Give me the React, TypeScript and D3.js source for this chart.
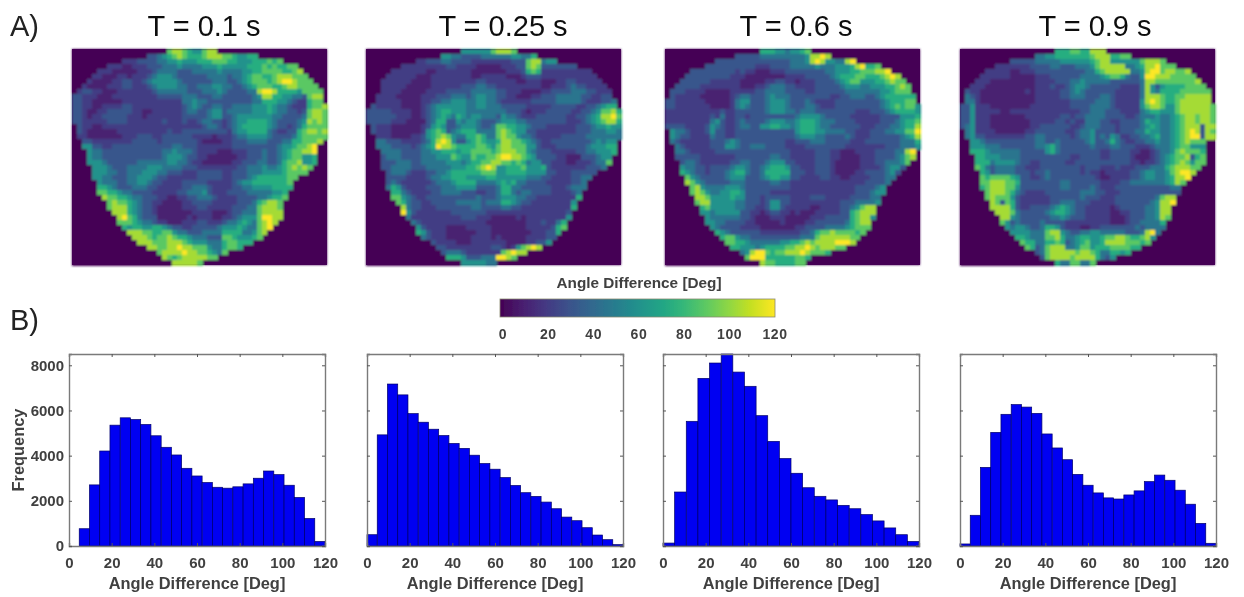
import React, { useEffect, useRef } from "react";
import * as d3 from "d3";

const width = 1244;
const height = 597;

const titles = ["T = 0.1 s", "T = 0.25 s", "T = 0.6 s", "T = 0.9 s"];
const titleCenters = [204, 503, 796, 1095];
const mapLefts = [72, 366, 665, 960];
const histLefts = [69, 367, 663, 960];

const xTicks = [0, 20, 40, 60, 80, 100, 120];
const yTicks = [0, 2000, 4000, 6000, 8000];
const barTicks = [0, 20, 40, 60, 80, 100, 120];

// frequency per bin, bins span 0-120 deg
const hist01 = [0, 765, 2705, 4205, 5350, 5675, 5600, 5380, 4880, 4370, 4030, 3440, 3100, 2810, 2600, 2560, 2620, 2750, 3000, 3320, 3160, 2690, 2150, 1220, 200];
const hist025 = [500, 4920, 7170, 6690, 5860, 5480, 5170, 4890, 4540, 4320, 4020, 3650, 3400, 3030, 2680, 2360, 2195, 1945, 1650, 1280, 1120, 810, 485, 280, 60];
const hist06 = [130, 2390, 5520, 7420, 8100, 8500, 7700, 7070, 5770, 4630, 3870, 3220, 2580, 2200, 2040, 1800, 1650, 1390, 1110, 800, 500, 200];
const hist09 = [90, 1360, 3480, 5030, 5830, 6260, 6150, 5870, 4960, 4340, 3820, 3170, 2690, 2350, 2130, 2080, 2260, 2440, 2850, 3140, 2910, 2470, 1850, 1000, 120];

// angle maps: one digit per cell, "." = outside the region
const digitLevels = [0, 3, 6, 8, 9];
const digitDegrees = [0, 32, 75, 104, 120];

const map01 = [
  ".......... .........7 887655788.",
  ".......... .....33456 7876667888 7765566",
  ".......... 2223333445 5655566677 7665556667 67",
  ".......222 1122233344 4544445556 5555566676 76677",
  ".....22211 1112223444 4333444445 4444556677 776678",
  "....221112 2122234555 4333333444 4344567766 7888777",
  "...2111122 3322345555 5433333344 4334567776 78998777",
  "..21111222 3322234555 5443344455 4433456777 667887777",
  ".233221112 2222223444 4443334445 4333344899 8666657777",
  "3322211122 2222222333 3344433344 3333334588 6655443788",
  "3322111111 2222222222 2244544333 3333334466 6554322677",
  "3322112222 3322222222 2234543344 3344445556 5443222677 8",
  "3321122333 3322112222 2234433455 3444445556 5443323788 7",
  "3321223333 3222122222 2233333455 3345555555 4433334788 7",
  "3322222333 3222222232 2232234433 2345566665 4333345878 7",
  ".322112222 2222222222 2222223443 2345666665 4332346777 7",
  ".321111112 2222222223 2233333333 3245566664 3223367887 8",
  ".221111111 2223332233 3333222212 2234455554 3333467777 7",
  "..33222222 2233333233 3333321111 2233344443 3344667778",
  "..55332233 3333333333 4433322222 2233333333 345567789.",
  "...5443333 3333333344 5444322221 1122233343 345677889.",
  "...5443333 3333333345 5543322111 1112233343 345677556.",
  "...5554333 3334444445 5443221111 1122333443 346778556.",
  "....555433 3444455544 4433322222 2223344454 45678787",
  "....555443 3444555443 3322233333 2233344455 5567777",
  "....554433 3445554332 2222233333 2233345666 66677",
  ".....54443 3445543322 2233333222 2234556666 6667",
  ".....66543 3344433222 2233444322 2233445555 6666",
  ".....77665 4433332222 2334445322 2333344444 556",
  "......8776 6544333221 1223344432 2223333445 667",
  ".......787 7654332211 1122333322 2223334678 87",
  ".......788 8654332111 1122233222 2233344788 87",
  "........88 8654332111 1111222211 1233444788 88",
  ".........8 9764333111 1112122211 2234555799 88",
  ".........7 7765443221 1122233222 3445654789 8",
  ".......... 6566556654 3322333334 5556544789",
  ".......... .888776677 5443334444 666644578.",
  ".......... ..88876778 7665444333 77655567",
  ".......... ...8887778 8876555444 677666",
  ".......... .....88778 8988777544 6776",
  ".......... .......788 8898877654 7",
  ".......... ........87 678888877",
  ".......... .......... 888887",
];

const map025 = [
  ".......... .........5 5555578887",
  ".......... .....55443 3334444445 5446",
  ".......... 2233344333 3222222223 33788455",
  ".......222 2222223322 2211111222 3378733333 33",
  ".....22222 2211222222 2111111122 2367622222 22222",
  "....222222 1112222222 2112222211 1233322222 222222",
  "...2222221 1112222222 2233222222 1122211122 3322222",
  "...2222211 1112222223 3344332222 2222211222 34332222",
  "...2222111 1122223333 3444443322 2111122333 344433222",
  "..22221111 1222333444 3455443322 1112233344 444332233",
  "..22222111 1223344555 4455443222 2223333344 4443222334",
  ".322222111 1234555555 4455444333 3322222333 3322334566",
  "3333322221 1234566555 4444444433 3212223333 3223345778 6",
  "3333332221 1234565465 4554443544 3222333333 2233456889 7",
  "3333322211 1134663354 5543334555 4433333333 2223456788 6",
  ".322211111 1235653345 5543347766 5543332222 2233345565 5",
  ".322211111 1256763456 6644447876 5533222222 2233344455 4",
  "..22211112 2356787544 6676447877 5443222223 3333444444 4",
  "..44333222 2346898533 5676556887 7654322333 3333345455",
  "..44433332 3456988766 6677657887 7755322233 3333455566",
  "...4444333 3445566656 6777767888 7754333222 2233445556",
  "...3444333 3444555765 5766778998 8765333322 111333455",
  "...3334443 3444445554 5667788776 7645533222 112223447",
  "...3344443 3344444555 6678985566 6755563222 22223334",
  "....344432 2233445666 6667775566 6655553322 233333",
  "....333322 2234455666 5555665555 5544433222 23344",
  "....343222 2223444566 6644445656 4433332222 2334",
  "....465322 2233344455 5533334664 4333333222 3444",
  ".....66432 2223344443 3322334664 3443333222 234",
  ".....77543 2233333333 3343334555 4433222222 226",
  "......7643 3223333344 4443444665 4332222222 25",
  ".......843 3222333333 3443333443 3222222222 26",
  ".......953 2222222333 3333222222 2222222222 3",
  "........42 2222222223 3322211111 2122222222 5",
  ".........4 3222222222 2222111111 1122232246",
  ".......... 5322221111 2222211111 1122222367",
  ".......... 6532221111 1122211111 111222336.",
  ".......... .432221111 1222212111 11222233",
  ".......... ...3222211 1222222211 1122335",
  ".......... ....332222 2222233212 57898",
  ".......... .....34443 2222222789 88",
  ".......... ......6665 3334449987",
  ".......... .........5 555544",
];

const map06 = [
  ".......... .........6 665545567",
  ".......... ....333334 4444444458 898",
  ".......... 3333333333 3333344458 98554489",
  "........33 3333333322 2333344444 5444555689 667",
  ".....33333 3333232211 1222333333 3344555667 77889",
  "....333333 3332221111 1111222233 3334566677 6667898",
  "...3333332 2222211111 2233221222 3333456775 55667877",
  "..33333222 2222211122 3444332222 3333345554 455566787",
  ".333222211 1112222233 4444333322 3333334444 444556777",
  ".322222111 1112344333 4544433333 3332233444 3345666666",
  "3322222211 1112455333 4555433343 2222333333 3334566677",
  "3322222221 1112454333 4555433344 3222333333 3334567677 5",
  "2222222222 2322333333 4555443444 3333333322 2333456666 5",
  "2222222223 2422332333 3333334555 5433333222 2223333555 6",
  "2222222224 5322343333 4555445666 5444333322 2223334566 7",
  "3333222235 4322344335 5665545666 5443333332 2233344566 8",
  ".544322235 3322333333 3333335666 5544443322 2333445577 9",
  ".543322224 3322333333 3333334555 4433334322 2333333456 8",
  ".432222223 3345433333 3333223334 4433333222 3333333444 6",
  "..43222223 3355433444 3333222233 3333332222 2222333444 5",
  "..44322222 3333333333 3333322222 3332211122 2233334489",
  "..33333222 2222333333 3443322222 3332211112 2233334578",
  "...3443222 2223344333 4555332222 3332111112 223344457.",
  "...5443323 3334554334 5666533222 3332111112 22234553",
  "...6543323 3345664334 6666633322 3332111122 3333453",
  "....754333 3345553334 5665533222 2332211222 233344",
  "....875433 3334443333 3443322222 2222222222 33334",
  ".....78544 4455543333 3333322222 2222222233 3345",
  ".....78754 4556653333 3222222222 2222222233 3455",
  "......8875 5556553332 3333322223 3322222333 344",
  "......7885 5555443332 3553322222 2222233344 445",
  ".......675 5555443322 3553222221 1222233457 88",
  ".......554 5555533221 2332212111 2222233678 88",
  "........54 4444433211 1222111112 2233333678 85",
  "........55 4433332211 1112111122 3333334678 8",
  ".........5 4333322221 1111112233 3344445677 7",
  ".......... 6543333332 2222222334 6778777767",
  ".......... .677544333 3333333444 788888877.",
  ".......... ..77665444 4445566787 88889998",
  ".......... ...6655545 6666778898 788877",
  ".......... .....45899 7677888987 776",
  ".......... ......7999 666666776",
  ".......... .........8 77666677",
];

const map09 = [
  ".......... .........6 667766888",
  ".......... .....44556 6666667888 6677",
  ".......... 3333344444 5555556788 5555557888 7",
  ".......222 2222333344 3334445788 8884456889 777",
  ".....22222 1122233333 3333344678 8888445899 788778",
  "....222222 1111122233 3333444456 7764335998 8877777",
  "...2221111 1111122223 3344544444 3333334887 77777778",
  "..22211111 1111122232 2345543333 3322224853 566667777",
  ".322111111 1112122222 3345433333 3222224854 6666777777",
  ".432111111 1111122222 3344433344 3222224888 7667788888",
  ".442111111 1111122222 2233333444 3222225898 7667888888",
  "3352221111 1111222222 2233334444 3222225788 7557888888 7",
  "3352222211 2222222222 2222334443 3322224566 5557888888 7",
  "3352221111 1112222222 3323344443 3332234445 4456788788 7",
  "3352221111 1111222223 3232244433 2233334655 4456788788 7",
  "3452221111 1111223333 3322344433 3233334565 4456788838 8",
  ".452222111 1112233333 3223445333 3233344655 4456789838 7",
  ".453322222 2223344333 3323445343 5422334456 4456789938 8",
  "..55433333 3333344334 3333345334 6432233445 445678777",
  "..55544433 3333344564 3333334333 4433322234 445677555",
  "..66654444 4433333564 3333333322 3333221123 445787776",
  "...6655544 4433333333 3322333322 3333211123 456778367",
  "...6664555 5433223333 3223333333 3333221223 456787577",
  "...7643444 4332223333 3333233322 2322233344 46788877",
  "....653444 4333233433 3333232212 2222334554 4578998",
  "....767777 6533223433 3333333211 2222334554 456889",
  "....778887 7633333333 4433333322 2233444444 45687",
  "....678887 7533333333 4433334322 2333333333 3344",
  ".....78887 6432222333 3333444332 2233333333 3333",
  ".....78777 5322222233 3333433322 2333333334 788",
  "......8737 6322222233 4443332222 2333333345 889",
  "......8888 6322333345 6543322222 1233333445 88",
  ".......888 7433333456 6543322222 1122333445 88",
  "........88 5433333344 5433322222 1112333445 87",
  "........75 3433334333 3222222222 1112334444 6",
  ".........5 4554334665 3222112233 3333343444 4",
  ".......... 5555444788 5433445544 4443334894",
  ".......... .665444778 6445665567 788766785",
  ".......... ..76644667 6345675568 88877767",
  ".......... ...7634788 8445775666 777766",
  ".......... .....34788 8887887644 6656",
  ".......... ......3788 8878888643 5",
  ".......... .........6 4477447",
];

const maps = [map01, map025, map06, map09];
const hists = [hist01, hist025, hist06, hist09];

const FONT = "'Liberation Sans', Arial, sans-serif";
const GREY = "#404040";

const digitToDegrees = d3.scaleLinear().domain(digitLevels).range(digitDegrees);

function cellValue(ch: string) {
  return ch === "." || ch === undefined ? 0 : digitToDegrees(+ch);
}

export default function App() {
  const ref = useRef<SVGSVGElement>(null);

  useEffect(() => {
    const svg = d3.select(ref.current);
    svg.selectAll("*").remove();

    const defs = svg.append("defs");
    defs.append("filter")
      .attr("id", "soft")
      .attr("filterUnits", "userSpaceOnUse")
      .attr("x", 0).attr("y", 0).attr("width", width).attr("height", height)
      .append("feGaussianBlur")
      .attr("stdDeviation", 0.5);
    defs.append("filter")
      .attr("id", "softer")
      .attr("filterUnits", "userSpaceOnUse")
      .attr("x", 0).attr("y", 0).attr("width", width).attr("height", height)
      .append("feGaussianBlur")
      .attr("stdDeviation", 1.1);

    const root = svg.append("g").attr("filter", "url(#soft)");
    root.append("rect").attr("width", width).attr("height", height).attr("fill", "#fff");

    const color = d3.scaleSequential(d3.interpolateViridis).domain([0, 120]);

    // panel letters
    root.append("text").attr("x", 10).attr("y", 36).text("A)")
      .style("font", `29px ${FONT}`).attr("fill", "#222");
    root.append("text").attr("x", 10).attr("y", 330).text("B)")
      .style("font", `29px ${FONT}`).attr("fill", "#222");

    // heat maps
    maps.forEach((rows, m) => {
      const left = mapLefts[m];
      const cols = d3.range(51);
      const x = d3.scaleBand<number>().domain(cols).range([left, left + 255]);
      const y = d3.scaleBand<number>().domain(d3.range(rows.length)).range([49, 265]);

      root.append("rect")
        .attr("x", left).attr("y", 49).attr("width", 255).attr("height", 216)
        .attr("fill", color(0));

      const g = root.append("g").attr("filter", "url(#softer)");
      g.append("rect")
        .attr("x", left).attr("y", 49).attr("width", 255).attr("height", 216)
        .attr("fill", color(0));

      rows.forEach((row, r) => {
        const cells = row.replace(/ /g, "").split("");
        g.selectAll(null)
          .data(cells)
          .join("rect")
          .attr("shape-rendering", "crispEdges")
          .attr("x", (_, i) => x(i) as number)
          .attr("y", y(r) as number)
          .attr("width", x.bandwidth() + 0.5)
          .attr("height", y.bandwidth() + 0.5)
          .attr("fill", d => color(cellValue(d)));
      });

      root.append("text")
        .attr("x", titleCenters[m])
        .attr("y", 36)
        .attr("text-anchor", "middle")
        .text(titles[m])
        .style("font", `29px ${FONT}`)
        .attr("fill", "#111");
    });

    // colour bar
    const grad = defs.append("linearGradient").attr("id", "bar");
    d3.range(0, 121, 10).forEach(v => {
      grad.append("stop").attr("offset", `${(v / 120) * 100}%`).attr("stop-color", color(v));
    });
    root.append("rect")
      .attr("x", 500).attr("y", 299).attr("width", 275).attr("height", 18)
      .attr("fill", "url(#bar)").attr("stroke", "#8a8a70").attr("stroke-width", 0.8);
    root.append("text")
      .attr("x", 639).attr("y", 288).attr("text-anchor", "middle")
      .text("Angle Difference [Deg]")
      .style("font", `bold 14px ${FONT}`)
      .attr("textLength", 165).attr("lengthAdjust", "spacingAndGlyphs")
      .attr("fill", GREY);
    const barScale = d3.scaleLinear().domain([0, 120]).range([503, 775]);
    root.selectAll(null)
      .data(barTicks)
      .join("text")
      .attr("x", d => barScale(d))
      .attr("y", 339)
      .attr("text-anchor", "middle")
      .text(d => d)
      .style("font", `bold 14px ${FONT}`)
      .style("letter-spacing", "0.6px")
      .attr("fill", GREY);

    // histograms
    const yScale = d3.scaleLinear().domain([0, 8500]).range([546, 354]);

    hists.forEach((values, h) => {
      const left = histLefts[h];
      const xScale = d3.scaleLinear().domain([0, 120]).range([left, left + 256]);
      const binWidth = 120 / values.length;
      const g = root.append("g");

      g.selectAll("rect")
        .data(values)
        .join("rect")
        .attr("x", (_, i) => xScale(i * binWidth))
        .attr("y", d => yScale(d))
        .attr("width", xScale(binWidth) - xScale(0))
        .attr("height", d => yScale(0) - yScale(d))
        .attr("fill", "#0000f2")
        .attr("stroke", "#00006a")
        .attr("stroke-width", 0.7);

      const styleAxis = (a: any) => {
        a.select(".domain").attr("stroke", "#7a7a7a").attr("stroke-width", 1.4);
        a.selectAll(".tick line").attr("stroke", "#555").attr("stroke-width", 1);
        a.selectAll("text")
          .style("font", `bold 15px ${FONT}`)
          .attr("fill", GREY);
      };

      g.append("g")
        .attr("transform", "translate(0,546)")
        .call(d3.axisBottom(xScale).tickValues(xTicks).tickSize(-3).tickPadding(11) as any)
        .call(styleAxis);
      g.append("g")
        .attr("transform", "translate(0,354)")
        .call(d3.axisTop(xScale).tickValues(xTicks).tickSize(-3).tickFormat(() => "") as any)
        .call(styleAxis);
      g.append("g")
        .attr("transform", `translate(${left},0)`)
        .call(d3.axisLeft(yScale).tickValues(yTicks).tickSize(-3).tickPadding(5)
          .tickFormat(d => (h === 0 ? String(d) : "")) as any)
        .call(styleAxis);
      g.append("g")
        .attr("transform", `translate(${left + 256},0)`)
        .call(d3.axisRight(yScale).tickValues(yTicks).tickSize(-3).tickFormat(() => "") as any)
        .call(styleAxis);

      g.append("text")
        .attr("x", left + 128)
        .attr("y", 589)
        .attr("text-anchor", "middle")
        .text("Angle Difference [Deg]")
        .style("font", `bold 16.4px ${FONT}`)
        .attr("fill", GREY);
    });

    root.append("text")
      .attr("transform", "translate(24,450)rotate(-90)")
      .attr("text-anchor", "middle")
      .text("Frequency")
      .style("font", `bold 16.4px ${FONT}`)
      .attr("fill", GREY);
  }, []);

  return (
    <svg
      ref={ref}
      width={width}
      height={height}
      style={{ position: "absolute", left: 0, top: 0, background: "#fff" }}
    />
  );
}
